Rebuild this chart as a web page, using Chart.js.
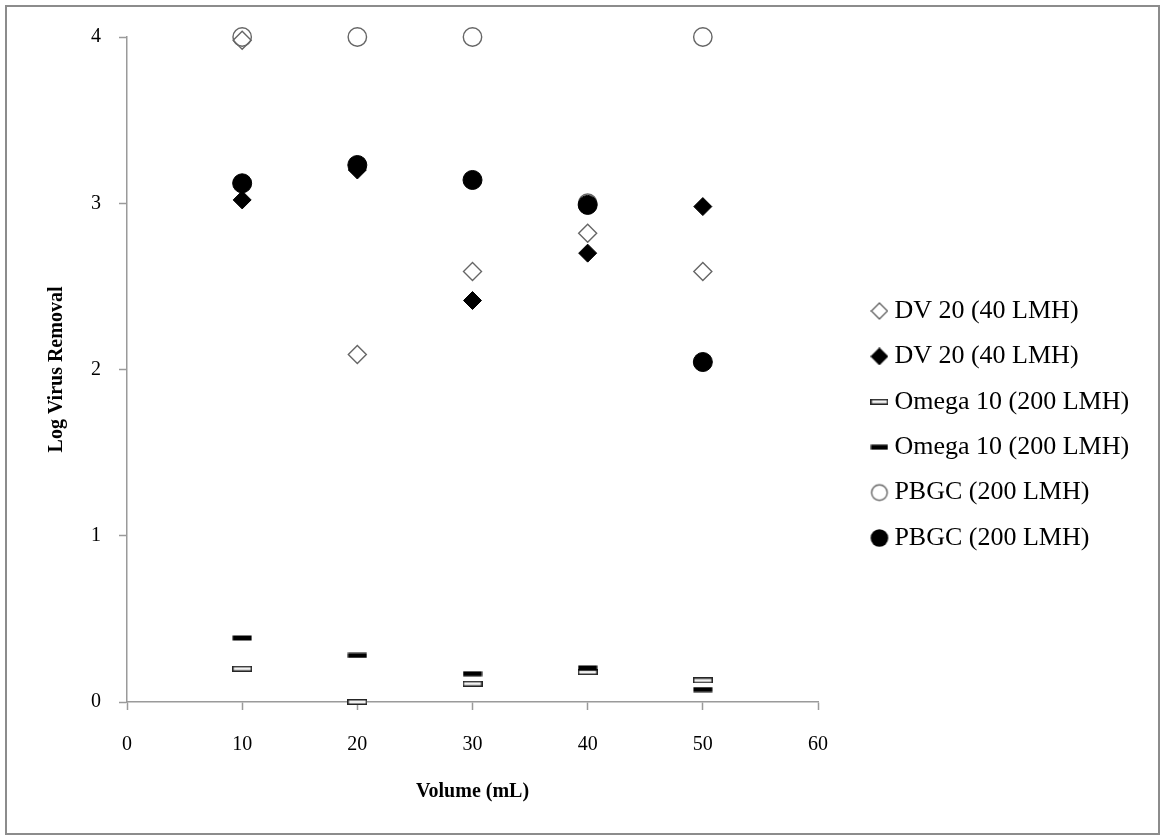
<!DOCTYPE html>
<html><head><meta charset="utf-8">
<script src="https://cdn.jsdelivr.net/npm/chart.js@4.4.0/dist/chart.umd.min.js"></script>
<style>
html,body{margin:0;padding:0;background:#fff;}
#frame{position:absolute;left:5px;top:5px;width:1151px;height:826px;border:2px solid #8c8c8c;background:#fff;}
canvas{display:block;}
</style></head><body>
<div id="frame"><canvas id="c" width="1151" height="826"></canvas></div>
<script>
// ---- data ----
const volumes = [10, 20, 30, 40, 50];
const dv20Open = [3.98, 2.09, 2.59, 2.82, 2.59];
const dv20Filled = [3.02, 3.20, 2.415, 2.70, 2.98];
const omegaOpen = [0.20, 0.00, 0.11, 0.18, 0.13];
const omegaFilled = [0.385, 0.28, 0.17, 0.205, 0.075];
const pbgcOpen = [4.0, 4.0, 4.0, 3.0, 4.0];
const pbgcFilled = [3.12, 3.23, 3.14, 2.99, 2.045];
const seriesLabels = ['DV 20 (40 LMH)', 'DV 20 (40 LMH)', 'Omega 10 (200 LMH)', 'Omega 10 (200 LMH)', 'PBGC (200 LMH)', 'PBGC (200 LMH)'];
const xTickValues = [0, 10, 20, 30, 40, 50, 60];
const yTickValues = [0, 1, 2, 3, 4];
const xTitle = 'Volume (mL)';
const yTitle = 'Log Virus Removal';

// ---- marker glyphs ----
function glyph(w, h, fn) { const c = document.createElement('canvas'); c.width = w; c.height = h; fn(c.getContext('2d'), w, h); return c; }
const dashOpen = glyph(20, 6, (g) => { g.fillStyle = '#f2f2f2'; g.fillRect(0.75, 0.75, 18.5, 4.5); g.strokeStyle = '#262626'; g.lineWidth = 1.5; g.strokeRect(0.75, 0.75, 18.5, 4.5); });
const dashFilled = glyph(20, 6, (g) => { g.fillStyle = '#000'; g.fillRect(0.5, 0.5, 19, 5); });
function diamondIcon(fill, stroke) { return glyph(18, 18, (g) => { g.beginPath(); g.moveTo(9, 1); g.lineTo(17, 9); g.lineTo(9, 17); g.lineTo(1, 9); g.closePath(); if (fill) { g.fillStyle = fill; g.fill(); } if (stroke) { g.strokeStyle = stroke; g.lineWidth = 1.4; g.stroke(); } }); }
function circleIcon(fill, stroke, r) { return glyph(20, 20, (g) => { g.beginPath(); g.arc(10, 10, r, 0, Math.PI * 2); if (fill) { g.fillStyle = fill; g.fill(); } if (stroke) { g.strokeStyle = stroke; g.lineWidth = 1.4; g.stroke(); } }); }
const dashOpenL = glyph(18, 6, (g) => { g.fillStyle = '#f2f2f2'; g.fillRect(0.75, 0.75, 16.5, 4.5); g.strokeStyle = '#262626'; g.lineWidth = 1.5; g.strokeRect(0.75, 0.75, 16.5, 4.5); });
const dashFilledL = glyph(18, 6, (g) => { g.fillStyle = '#000'; g.fillRect(0.5, 0.5, 17, 5); });
const legendIcons = [diamondIcon(null, '#666'), diamondIcon('#000', '#000'), dashOpenL, dashFilledL, circleIcon(null, '#666', 7.8), circleIcon('#000', null, 8.8)];

const pts = (arr) => volumes.map((v, i) => ({ x: v, y: arr[i] }));
const FONT = "'Liberation Serif', 'Times New Roman', serif";

const datasets = [
  { label: seriesLabels[0], data: pts(dv20Open), pointStyle: 'rectRot', pointRadius: 9, backgroundColor: 'rgba(255,255,255,0)', borderColor: '#666', borderWidth: 1.4 },
  { label: seriesLabels[1], data: pts(dv20Filled), pointStyle: 'rectRot', pointRadius: 9, backgroundColor: '#000', borderColor: '#000', borderWidth: 1 },
  { label: seriesLabels[2], data: pts(omegaOpen), pointStyle: dashOpen, pointRadius: 9 },
  { label: seriesLabels[3], data: pts(omegaFilled), pointStyle: dashFilled, pointRadius: 9 },
  { label: seriesLabels[4], data: pts(pbgcOpen), pointStyle: 'circle', pointRadius: 9.2, backgroundColor: 'rgba(255,255,255,0)', borderColor: '#666', borderWidth: 1.4 },
  { label: seriesLabels[5], data: pts(pbgcFilled), pointStyle: 'circle', pointRadius: 9.5, backgroundColor: '#000', borderColor: '#000', borderWidth: 1 }
].map((d, i) => Object.assign(d, { showLine: false, clip: false, order: 6 - i, pointHoverRadius: d.pointRadius }));

const legendPlacer = {
  id: 'legendPlacer',
  afterLayout(chart) {
    const l = chart.legend; if (!l) return;
    const h = l.height;
    l.left = 851; l.right = 1151;
    l.top = 271.6; l.bottom = l.top + h;
  }
};

const axisGray = '#9a9a9a';
new Chart(document.getElementById('c'), {
  type: 'scatter',
  data: { datasets },
  plugins: [legendPlacer],
  options: {
    responsive: false,
    animation: false,
    layout: { padding: { left: 0, top: 28, right: 140, bottom: 0 } },
    plugins: {
      tooltip: { enabled: false },
      legend: {
        position: 'right', align: 'start', maxWidth: 200,
        labels: {
          usePointStyle: true, boxWidth: 4, boxHeight: 4, padding: 19.4, color: '#000',
          font: { family: FONT, size: 26 },
          generateLabels: (chart) => chart.data.datasets.map((d, i) => ({ text: d.label, pointStyle: legendIcons[i], fillStyle: '#000', strokeStyle: '#000', lineWidth: 0, hidden: false, datasetIndex: i }))
        }
      }
    },
    scales: {
      x: {
        type: 'linear', min: xTickValues[0], max: xTickValues[xTickValues.length - 1],
        afterBuildTicks: (s) => { s.ticks = xTickValues.map((v) => ({ value: v })); },
        afterFit: (s) => { s.height = 131; },
        ticks: { color: '#000', font: { family: FONT, size: 20 }, padding: 23, maxRotation: 0 },
        grid: { drawOnChartArea: false, drawTicks: true, tickLength: 8, tickColor: axisGray, tickWidth: 1.5 },
        border: { color: axisGray, width: 1.5 },
        title: { display: true, text: xTitle, color: '#000', font: { family: FONT, size: 20, weight: 'bold' }, padding: { top: 0, bottom: 29 } }
      },
      y: {
        type: 'linear', min: yTickValues[0], max: yTickValues[yTickValues.length - 1],
        afterBuildTicks: (s) => { s.ticks = yTickValues.map((v) => ({ value: v })); },
        afterFit: (s) => { s.width = 120; },
        ticks: { color: '#000', font: { family: FONT, size: 20 }, padding: 18 },
        grid: { drawOnChartArea: false, drawTicks: true, tickLength: 8, tickColor: axisGray, tickWidth: 1.5 },
        border: { color: axisGray, width: 1.5 },
        title: { display: true, text: yTitle, color: '#000', font: { family: FONT, size: 20, weight: 'bold' }, padding: { top: 38, bottom: 0 } }
      }
    }
  }
});
</script>
</body></html>
